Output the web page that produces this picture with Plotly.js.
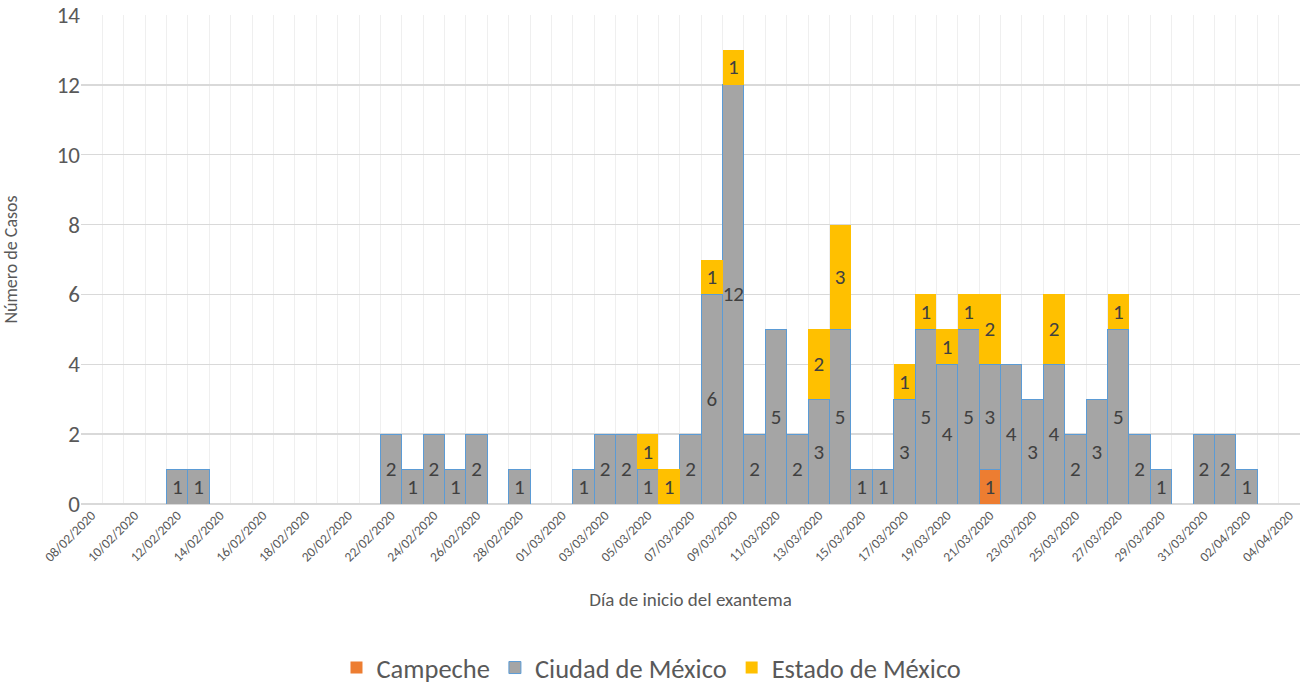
<!DOCTYPE html>
<html>
<head>
<meta charset="utf-8">
<script src="https://cdn.plot.ly/plotly-3.0.1.min.js"></script>
<style>html,body{margin:0;padding:0;background:#fff;}#chart{width:1302px;height:684px;}</style>
</head>
<body>
<div id="chart"></div>
<script>
const dates = [
 '2020-02-08','2020-02-09','2020-02-10','2020-02-11','2020-02-12','2020-02-13','2020-02-14','2020-02-15',
 '2020-02-16','2020-02-17','2020-02-18','2020-02-19','2020-02-20','2020-02-21','2020-02-22','2020-02-23',
 '2020-02-24','2020-02-25','2020-02-26','2020-02-27','2020-02-28','2020-02-29','2020-03-01','2020-03-02',
 '2020-03-03','2020-03-04','2020-03-05','2020-03-06','2020-03-07','2020-03-08','2020-03-09','2020-03-10',
 '2020-03-11','2020-03-12','2020-03-13','2020-03-14','2020-03-15','2020-03-16','2020-03-17','2020-03-18',
 '2020-03-19','2020-03-20','2020-03-21','2020-03-22','2020-03-23','2020-03-24','2020-03-25','2020-03-26',
 '2020-03-27','2020-03-28','2020-03-29','2020-03-30','2020-03-31','2020-04-01','2020-04-02','2020-04-03',
 '2020-04-04'
];
const campeche = [
 0,0,0,0,0,0,0,0, 0,0,0,0,0,0,0,0, 0,0,0,0,0,0,0,0,
 0,0,0,0,0,0,0,0, 0,0,0,0,0,0,0,0, 0,0,1,0,0,0,0,0,
 0,0,0,0,0,0,0,0, 0
];
const cdmx = [
 0,0,0,0,1,1,0,0, 0,0,0,0,0,0,2,1, 2,1,2,0,1,0,0,1,
 2,2,1,0,2,6,12,2, 5,2,3,5,1,1,3,5, 4,5,3,4,3,4,2,3,
 5,2,1,0,2,2,1,0, 0
];
const edomex = [
 0,0,0,0,0,0,0,0, 0,0,0,0,0,0,0,0, 0,0,0,0,0,0,0,0,
 0,0,1,1,0,1,1,0, 0,0,2,3,0,0,1,1, 1,1,2,0,0,2,0,0,
 1,0,0,0,0,0,0,0, 0
];
const seriesNames = ['Campeche','Ciudad de México','Estado de México'];

const FONT = 'Calibri, Carlito, "Liberation Sans", Arial, sans-serif';
const nz = a => a.map(v => v === 0 ? null : v);
function mk(name, vals, color, lineColor, lineW){
  const v = nz(vals);
  return {
    type:'bar', name:name, x:dates, y:v, text:v.map(x => x===null?'':String(x)),
    textposition:'inside', insidetextanchor:'middle', textangle:0, constraintext:'none',
    textfont:{family:FONT, size:21, color:'#404040'},
    marker:{color:color, line:{color:lineColor, width:lineW}},
    hoverinfo:'x+y+name'
  };
}
const traces = [
  mk(seriesNames[0], campeche, '#ed7d31', '#ed7d31', 0),
  mk(seriesNames[1], cdmx, '#a5a5a5', '#5b9bd5', 1),
  mk(seriesNames[2], edomex, '#ffc000', '#ffc000', 0)
];
const layout = {
  width:1302, height:684,
  margin:{l:81, r:2, t:15, b:180, autoexpand:false},
  paper_bgcolor:'#fff', plot_bgcolor:'#fff',
  barmode:'stack', bargap:0,
  font:{family:FONT, color:'#595959'},
  xaxis:{
    type:'date', automargin:false,
    range:['2020-02-07 12:00','2020-04-04 12:00'],
    tick0:'2020-02-08', dtick:172800000, tickformat:'%d/%m/%Y',
    tickangle:-45, tickfont:{size:13.5, color:'#595959'},
    showgrid:false, ticks:'', showline:false, zeroline:false,
    minor:{tick0:'2020-02-07 12:00', dtick:86400000, showgrid:true, gridcolor:'#efefef', gridwidth:1, ticks:''},
    title:{text:'Día de inicio del exantema', font:{size:19, color:'#595959'}, standoff:28}
  },
  yaxis:{
    automargin:false,
    range:[0,14], dtick:2, tick0:0,
    tickfont:{size:23, color:'#595959'},
    showgrid:true, gridcolor:'#d9d9d9', gridwidth:1.5,
    zeroline:true, zerolinecolor:'#d9d9d9', zerolinewidth:1.5,
    ticks:'', showline:false,
    title:{text:'Número de Casos', font:{size:18, color:'#595959'}, standoff:40}
  },
  legend:{
    orientation:'h', x:0.468, xanchor:'center', y:-0.335, yanchor:'middle',
    traceorder:'normal', font:{size:26.5, color:'#595959'}, itemwidth:30
  },
  showlegend:true
};
Plotly.newPlot('chart', traces, layout, {displayModeBar:false, staticPlot:true});
</script>
</body>
</html>
